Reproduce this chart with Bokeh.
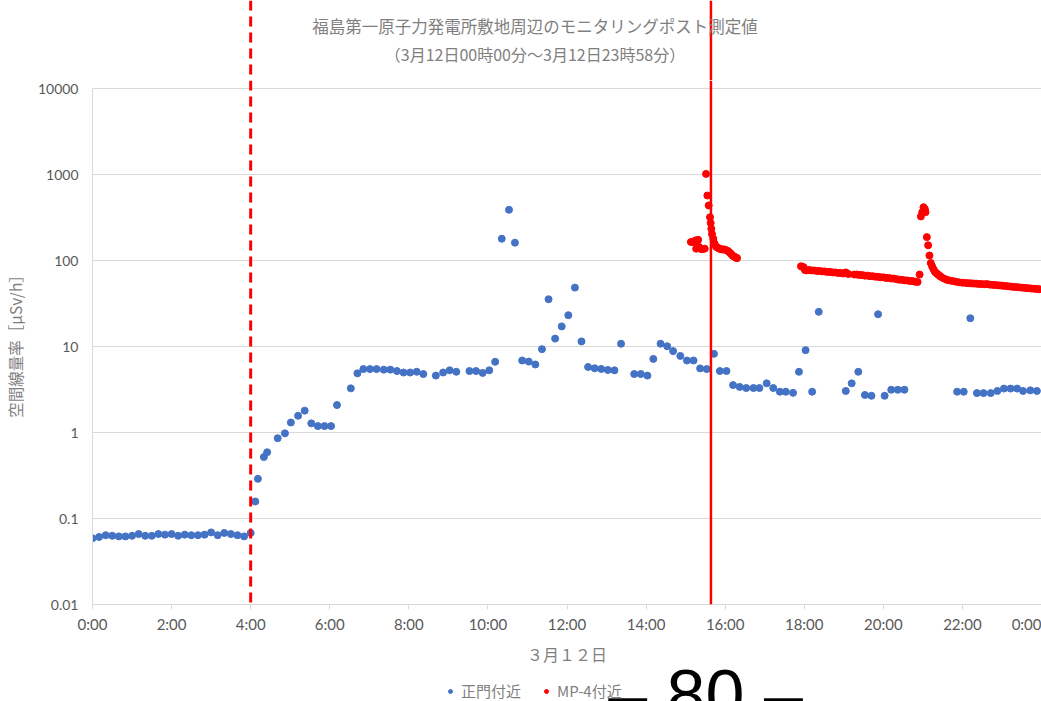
from bokeh.plotting import figure
from bokeh.layouts import column
from bokeh.models import Span, Label, Legend, LegendItem, FixedTicker, Range1d
from bokeh.embed import file_html
from bokeh.resources import INLINE

# ---------------- data ----------------
TITLE_1 = "福島第一原子力発電所敷地周辺のモニタリングポスト測定値"
TITLE_2 = "（3月12日00時00分～3月12日23時58分）"
X_LABEL = "３月１２日"
Y_LABEL = "空間線量率［μSv/h］"
SERIES_NAMES = ["正門付近", "MP-4付近"]
PAGE_NO = "– 80 –"

X_TICKS = [0, 2, 4, 6, 8, 10, 12, 14, 16, 18, 20, 22, 24]
X_TICK_LABELS = ["0:00", "2:00", "4:00", "6:00", "8:00", "10:00", "12:00",
                 "14:00", "16:00", "18:00", "20:00", "22:00", "0:00"]
Y_TICKS = [0.01, 0.1, 1, 10, 100, 1000, 10000]
Y_TICK_LABELS = ["0.01", "0.1", "1", "10", "100", "1000", "10000"]

EVENT_DASHED_H = 4.0      # 4:00
EVENT_SOLID_H = 15.64     # ~15:38

# 正門付近 (minutes after 0:00, μSv/h)
BLUE_MIN = [0, 10, 20, 30, 40, 50, 60, 70, 80, 90, 100, 110, 120, 130, 140, 150,
            160, 170, 180, 190, 200, 210, 220, 230, 240,
            247, 251, 260, 265, 281, 292, 301, 312, 322, 332, 342, 352, 362, 371,
            392, 402, 411, 421, 431, 442, 452, 462, 472, 482, 492, 502, 521, 532,
            542, 552, 572, 582, 592, 602, 611, 621, 632, 641, 652, 662, 672, 682,
            692, 702, 712, 722, 732, 742, 752, 762, 772, 782, 792, 802, 822, 832,
            842, 851, 862, 872, 881, 892, 902, 912, 922, 932, 943, 952, 962, 972,
            982, 992, 1003, 1012, 1023, 1033, 1043, 1052, 1063, 1072, 1082, 1092,
            1102, 1143, 1152, 1162, 1172, 1182, 1192, 1202, 1212, 1222, 1232,
            1312, 1322, 1332, 1342, 1352, 1363, 1373, 1383, 1393, 1403, 1412,
            1423, 1433]
BLUE_VAL = [0.059, 0.061, 0.064, 0.063, 0.062, 0.062, 0.063, 0.066, 0.063, 0.063,
            0.066, 0.065, 0.066, 0.063, 0.065, 0.064, 0.064, 0.065, 0.069, 0.064,
            0.068, 0.066, 0.064, 0.062, 0.068,
            0.158, 0.29, 0.52, 0.59, 0.86, 0.98, 1.31, 1.57, 1.8, 1.28, 1.19, 1.19,
            1.19, 2.09, 3.27, 4.89, 5.48, 5.48, 5.48, 5.4, 5.4, 5.2, 5.0, 5.0, 5.1,
            4.8, 4.6, 5.0, 5.3, 5.1, 5.2, 5.2, 4.95, 5.3, 6.66, 180, 391, 162, 6.9,
            6.7, 6.2, 9.35, 35.6, 12.4, 17.2, 23.2, 48.6, 11.5, 5.8, 5.6, 5.5, 5.35,
            5.3, 10.8, 4.8, 4.8, 4.6, 7.2, 10.8, 10.1, 8.87, 7.8, 6.9, 6.9, 5.58,
            5.48, 8.25, 5.2, 5.2, 3.57, 3.4, 3.3, 3.3, 3.3, 3.74, 3.3, 2.99, 2.99,
            2.9, 5.1, 9.1, 2.99, 25.4, 3.05, 3.74, 5.1, 2.74, 2.68, 23.8, 2.68,
            3.15, 3.15, 3.15, 2.99, 2.99, 21.4, 2.88, 2.88, 2.88, 3.05, 3.25, 3.25,
            3.25, 3.05, 3.1, 3.05]

# MP-4付近 (minutes after 0:00, μSv/h)
RED_MIN = [908, 913, 915, 916, 919, 920, 921, 924, 926, 929, 931, 933, 935, 937,
           938, 939, 940, 942, 944, 946, 948, 950, 952, 954, 956, 959, 961, 964,
           966, 968, 970, 971, 973, 975, 977, 978,
           1075, 1077, 1079, 1081, 1083, 1087, 1091, 1095, 1099, 1103, 1107, 1111,
           1115, 1119, 1123, 1127, 1131, 1135, 1139, 1143, 1147, 1156, 1160, 1164,
           1168, 1172, 1176, 1180, 1184, 1188, 1192, 1196, 1200, 1204, 1208, 1212,
           1216, 1220, 1224, 1228, 1232, 1236, 1240, 1244, 1248, 1252, 1255,
           1257, 1259, 1261, 1263, 1264, 1266, 1268, 1270, 1272, 1274, 1276, 1278,
           1280, 1282, 1284, 1286, 1288, 1292, 1296, 1300, 1305, 1310, 1315, 1320,
           1325, 1329, 1333, 1337, 1341, 1345, 1349, 1353, 1357, 1361, 1365, 1369,
           1373, 1377, 1381, 1385, 1389, 1393, 1397, 1401, 1405, 1409, 1413, 1417,
           1421, 1425, 1429, 1433, 1437]
RED_VAL = [165, 164, 172, 138, 175, 145, 142, 136, 137, 138, 1023, 573, 439, 320,
           274, 235, 204, 180, 158, 146, 142, 140, 137, 136, 135, 135, 133, 130,
           126, 122, 118, 115, 112, 110, 108, 107,
           86, 85, 84, 78, 77, 78, 77, 77, 76, 76, 75, 75, 74, 74, 73, 73, 72, 72,
           71, 73, 70, 69, 69, 68, 68, 67, 67, 66, 66, 65, 65, 64, 64, 63, 63, 62,
           62, 61, 60, 60, 59, 59, 58, 58, 57, 56.5, 69,
           327, 367, 419, 400, 367, 188, 151, 115, 94, 86, 80, 75, 72, 70, 68, 66,
           64.5, 62, 60, 59, 58, 57, 56, 55.5,
           55.0, 54.8, 54.5, 54.2, 54.0, 53.7, 53.4, 53.1, 53.5, 52.7, 52.4, 52.1,
           51.8, 51.5, 51.2, 50.8, 50.4, 50.0, 49.6, 49.3, 49.0, 48.7, 48.4, 48.0,
           47.7, 47.4, 47.1, 46.8, 46.5]

# ---------------- styling ----------------
BLUE = "#4472c4"
RED = "#ff0000"
GRID = "#d9d9d9"
TEXT = "#595959"
LIGHT = "#7f7f7f"
CJK = "Noto Sans CJK JP"
NUM = "Lato"
W = 1041
TOP_H = 80          # title strip
MAIN_H = 588        # plot frame (525) + bottom axis panel (63)
BOT_H = 701 - TOP_H - MAIN_H
Y_TOP = 12480       # a little headroom above the 10000 gridline

blue_h = [m / 60 for m in BLUE_MIN]
red_h = [m / 60 for m in RED_MIN]
xr = Range1d(0, 24)


def bare(fig):
    fig.outline_line_color = None
    fig.background_fill_color = "white"
    fig.border_fill_color = "white"
    fig.grid.visible = False


def spans(fig):
    fig.add_layout(Span(location=EVENT_DASHED_H, dimension="height",
                        line_color=RED, line_width=3, line_dash="10 6"))
    fig.add_layout(Span(location=EVENT_SOLID_H, dimension="height",
                        line_color=RED, line_width=2.5))


def lab(fig, text, x, y, size, color, font, baseline="middle"):
    fig.add_layout(Label(x=x, y=y, x_units="screen", y_units="screen", text=text,
                         text_align="center", text_baseline=baseline,
                         text_font_size=size, text_color=color, text_font=font))


def strip(h):
    f = figure(width=W, height=h, x_range=xr, y_range=Range1d(0, 1),
               x_axis_location=None, y_axis_location=None,
               output_backend="svg", toolbar_location=None, title=None,
               min_border=0, min_border_left=92, min_border_right=0,
               min_border_top=0, min_border_bottom=0)
    bare(f)
    return f


# ---- top strip: title, event lines continue upward ----
top = strip(TOP_H)
spans(top)
lab(top, TITLE_1, 442.5, TOP_H - 25, "16.5px", LIGHT, CJK)
lab(top, TITLE_2, 442.5, TOP_H - 53, "16px", LIGHT, CJK)

# ---- main chart ----
p = figure(width=W, height=MAIN_H, y_axis_type="log",
           x_range=xr, y_range=Range1d(Y_TICKS[0], Y_TOP),
           output_backend="svg", toolbar_location=None, title=None,
           min_border=0, min_border_left=92, min_border_right=0,
           min_border_top=0, min_border_bottom=63)
bare(p)
p.ygrid.visible = True
p.ygrid.ticker = FixedTicker(ticks=Y_TICKS)
p.ygrid.grid_line_color = GRID
p.ygrid.grid_line_width = 1
p.xgrid.visible = False

ya = p.yaxis[0]
ya.ticker = FixedTicker(ticks=Y_TICKS)
ya.major_label_overrides = {t: l for t, l in zip(Y_TICKS, Y_TICK_LABELS)}
ya.bounds = (Y_TICKS[0], Y_TICKS[-1])
ya.axis_line_color = GRID
ya.major_tick_line_color = None
ya.major_tick_out = 0
ya.major_tick_in = 0
ya.minor_tick_line_color = None
ya.major_label_standoff = 14
ya.major_label_text_font = NUM
ya.major_label_text_font_size = "14px"
ya.major_label_text_color = TEXT
ya.axis_label = Y_LABEL
ya.axis_label_text_font = CJK
ya.axis_label_text_font_size = "15.5px"
ya.axis_label_text_font_style = "normal"
ya.axis_label_text_color = LIGHT
ya.axis_label_standoff = 9

xa = p.xaxis[0]
xa.ticker = FixedTicker(ticks=X_TICKS)
xa.major_label_overrides = {t: l for t, l in zip(X_TICKS, X_TICK_LABELS)}
xa.axis_line_color = GRID
xa.major_tick_line_color = GRID
xa.major_tick_out = 5
xa.major_tick_in = 0
xa.minor_tick_line_color = None
xa.major_label_standoff = 5
xa.major_label_text_font = NUM
xa.major_label_text_font_size = "15px"
xa.major_label_text_color = TEXT
xa.axis_label = X_LABEL
xa.axis_label_text_font = CJK
xa.axis_label_text_font_size = "16px"
xa.axis_label_text_font_style = "normal"
xa.axis_label_text_color = LIGHT
xa.axis_label_standoff = 6

p.scatter(blue_h, BLUE_VAL, size=7, color=BLUE)
p.scatter(red_h, RED_VAL, size=7, color=RED)
spans(p)

# ---- bottom strip: legend + page number ----
bot = strip(BOT_H)
# legend keys: one point each, kept outside the visible range
kb = bot.scatter(x=[-5], y=[-5], size=7, color=BLUE)
kr = bot.scatter(x=[-5], y=[-5], size=7, color=RED)
legend = Legend(items=[LegendItem(label=SERIES_NAMES[0], renderers=[kb]),
                       LegendItem(label=SERIES_NAMES[1], renderers=[kr])],
                location=(445 - 92, 0), orientation="horizontal",
                label_text_font=CJK, label_text_font_size="15px",
                label_text_color=LIGHT, border_line_color=None,
                background_fill_alpha=0, padding=0, margin=0,
                glyph_width=10, glyph_height=10, spacing=20, label_standoff=6)
bot.add_layout(legend)
lab(bot, PAGE_NO, 705 - 92, 7, "70px", "#000000", "Liberation Sans",
    baseline="alphabetic")

layout = column(top, p, bot, spacing=0)
open("out.html", "w").write(file_html(layout, INLINE))
